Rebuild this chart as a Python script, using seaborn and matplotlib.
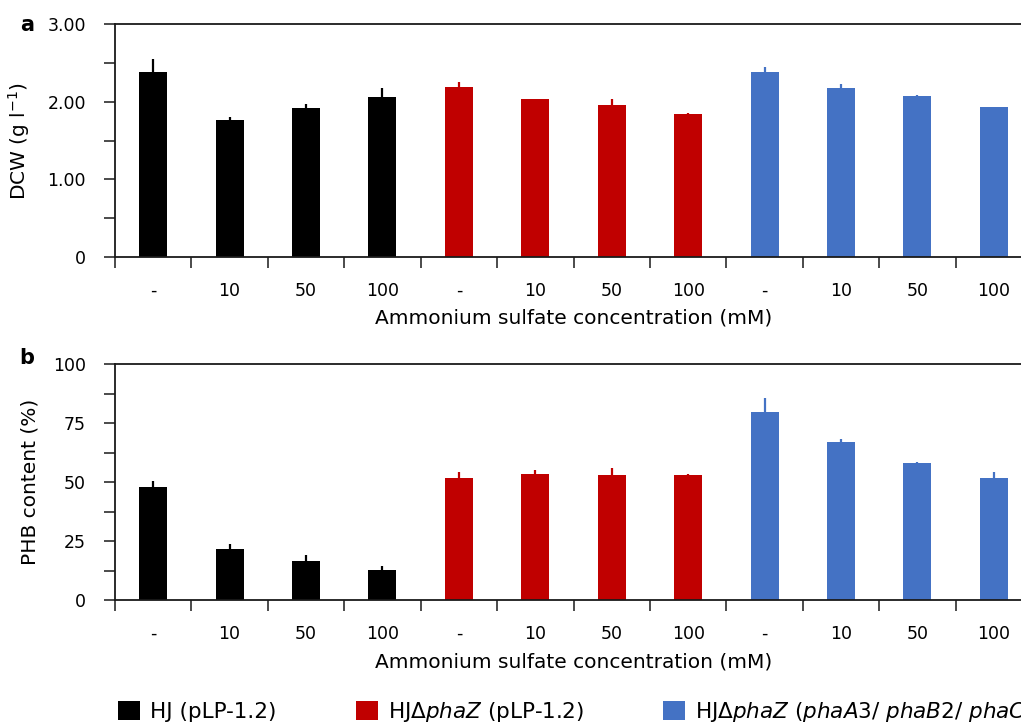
import numpy as np
import pandas as pd
import matplotlib
matplotlib.use("Agg")
import matplotlib.pyplot as plt
from matplotlib.patches import Patch
from matplotlib.ticker import FixedLocator, FuncFormatter
import seaborn as sns

# ---------------- data ----------------
strains = ["HJ (pLP-1.2)", "HJΔphaZ (pLP-1.2)", "HJΔphaZ (phaA3/ phaB2/ phaC1)"]
conc_labels = ["-", "10", "50", "100"]
dcw = [2.385, 1.767, 1.92, 2.06,
       2.19, 2.03, 1.96, 1.845,
       2.38, 2.175, 2.07, 1.93]
dcw_err = [0.17, 0.03, 0.05, 0.11,
           0.06, 0.005, 0.07, 0.01,
           0.065, 0.05, 0.02, 0.0]
phb = [47.8, 21.6, 16.7, 12.9,
       51.8, 53.6, 53.2, 53.0,
       79.9, 67.2, 58.3, 51.8]
phb_err = [2.8, 2.0, 2.4, 1.5,
           2.4, 1.7, 2.7, 0.3,
           5.7, 1.2, 0.3, 2.4]
colors = ["#000000", "#C00000", "#4472C4"]
legend_labels = [r"HJ (pLP-1.2)",
                 r"HJΔ$\it{phaZ}$ (pLP-1.2)",
                 r"HJΔ$\it{phaZ}$ ($\it{phaA3/}$ $\it{phaB2/}$ $\it{phaC1}$)"]

n = len(dcw)
df = pd.DataFrame({
    "pos": np.arange(n),
    "strain": np.repeat(strains, len(conc_labels)),
    "conc": conc_labels * len(strains),
    "dcw": dcw, "dcw_err": dcw_err,
    "phb": phb, "phb_err": phb_err,
})
palette = dict(zip(strains, colors))

# ---------------- style ----------------
sns.set_style("white")
plt.rcParams["font.family"] = ["DejaVu Sans"]
plt.rcParams["mathtext.fontset"] = "dejavusans"
plt.rcParams["text.color"] = "black"
plt.rcParams["axes.labelcolor"] = "black"
plt.rcParams["xtick.color"] = "black"
plt.rcParams["ytick.color"] = "black"
axis_col = "#1a1a1a"

W, H = 1021, 724
fig = plt.figure(figsize=(W / 100, H / 100), dpi=100)
ax1 = fig.add_axes([115 / W, 1 - 257 / H, 917 / W, 233 / H])
ax2 = fig.add_axes([115 / W, 1 - 600 / H, 917 / W, 235.7 / H])


def draw(ax, col, errcol, ymax, major, minor_step, fmt, ylabel, ylab_x):
    sns.barplot(data=df, x="pos", y=col, hue="strain", palette=palette,
                dodge=False, width=0.366, saturation=1, errorbar=None,
                legend=False, ax=ax, edgecolor="none")
    bar_colors = [palette[s] for s in df["strain"]]
    ax.vlines(df["pos"], df[col], df[col] + df[errcol], colors=bar_colors, lw=1.6)
    ax.set_xlim(-0.5, n - 0.5)
    ax.set_ylim(0, ymax)
    ax.yaxis.set_major_locator(FixedLocator(major))
    ax.yaxis.set_major_formatter(FuncFormatter(fmt))
    ax.yaxis.set_minor_locator(FixedLocator(np.arange(0, ymax + 1e-9, minor_step)))
    ax.tick_params(axis="y", which="both", direction="out", length=8, width=1.1,
                   color=axis_col, labelsize=12.5, pad=13, left=True,
                   labelcolor="black")
    ax.set_xticks(df["pos"])
    ax.set_xticklabels(df["conc"])
    ax.set_xticks(np.arange(-0.5, n), minor=True)
    ax.tick_params(axis="x", which="major", length=0, labelsize=12.5, pad=18,
                   labelcolor="black")
    ax.tick_params(axis="x", which="minor", direction="out", length=8, width=1.1,
                   color=axis_col, bottom=True)
    for s in ["left", "bottom", "top"]:
        ax.spines[s].set_visible(True)
        ax.spines[s].set_color(axis_col)
        ax.spines[s].set_linewidth(1.3)
    ax.spines["right"].set_visible(False)
    ax.set_xlabel("Ammonium sulfate concentration (mM)", fontsize=14.5, color="black")
    ax.xaxis.set_label_coords(0.5, -0.222)
    ax.set_ylabel(ylabel, fontsize=14.5, color="black")
    ax.yaxis.set_label_coords(ylab_x, 0.5)


draw(ax1, "dcw", "dcw_err", 3.0, [0, 1, 2, 3], 0.5,
     lambda v, p: "0" if v == 0 else f"{v:.2f}", r"DCW (g l$^{-1}$)", -0.091)
draw(ax2, "phb", "phb_err", 100, [0, 25, 50, 75, 100], 12.5,
     lambda v, p: f"{v:.0f}", "PHB content (%)", -0.082)

fig.text(27 / W, 1 - 25 / H, "a", fontsize=15, fontweight="bold", ha="center", va="center")
fig.text(27 / W, 1 - 358 / H, "b", fontsize=15, fontweight="bold", ha="center", va="center")

handles = [Patch(facecolor=c, edgecolor="none") for c in colors]
fig.legend(handles, legend_labels, loc="center left",
           bbox_to_anchor=(118 / W, 1 - 712 / H), ncol=3, frameon=False,
           fontsize=15.5, handlelength=1.02, handleheight=1.02, handletextpad=0.47,
           columnspacing=3.7, borderpad=0, borderaxespad=0)

fig.savefig("out.png", dpi=100)
